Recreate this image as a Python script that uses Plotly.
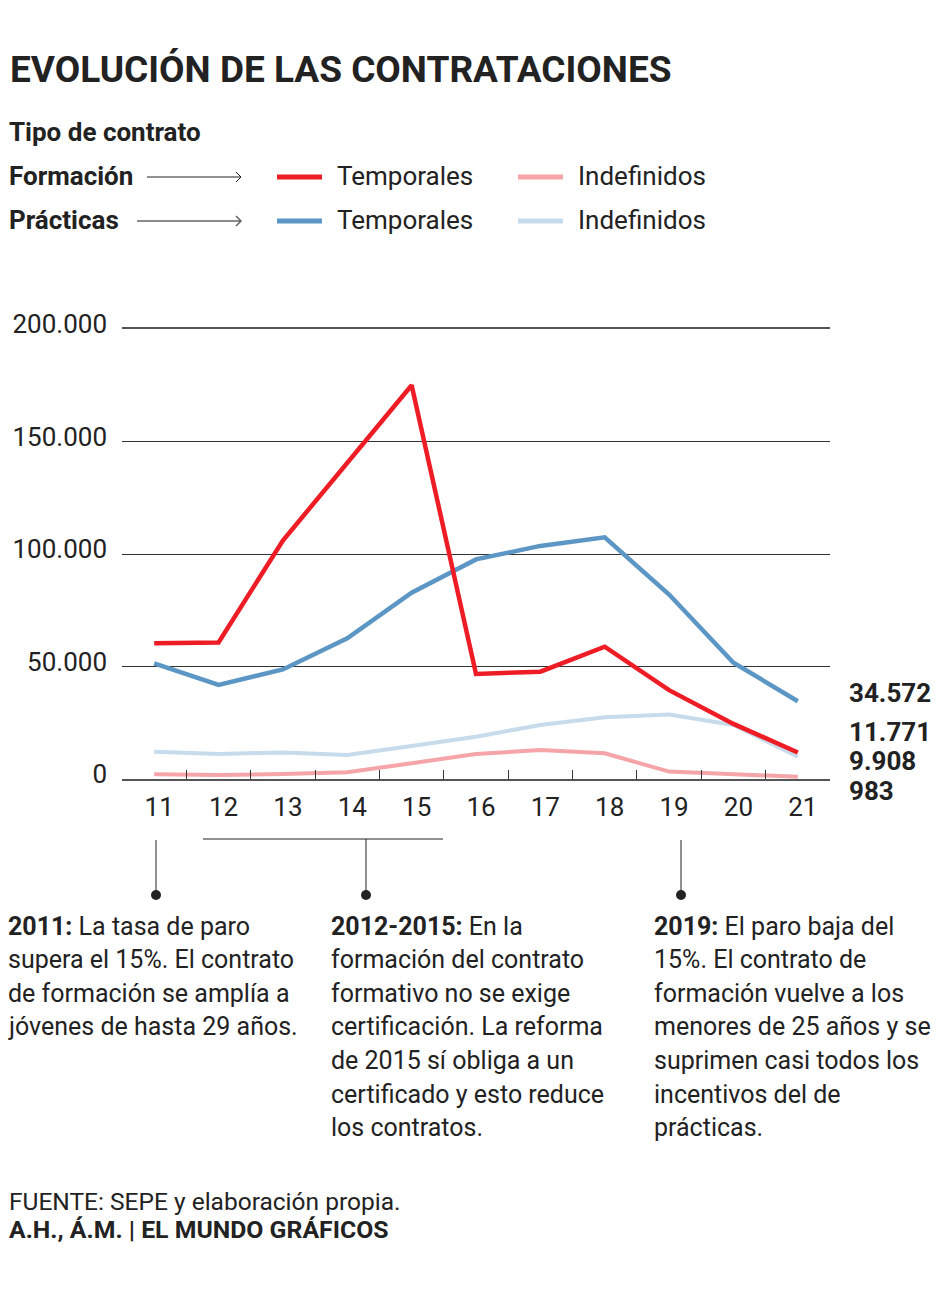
import plotly.graph_objects as go

# ---------------- data ----------------
years = ["11", "12", "13", "14", "15", "16", "17", "18", "19", "20", "21"]
formacion_temporales = [60300, 60700, 106000, 140500, 175000, 46700, 47700, 58800, 39500, 24500, 11771]
formacion_indefinidos = [2100, 1800, 2200, 3000, 7000, 11100, 12900, 11400, 3300, 2200, 983]
practicas_temporales = [51400, 41800, 48700, 62500, 82800, 97600, 103600, 107400, 82000, 51700, 34572]
practicas_indefinidos = [12100, 11100, 11800, 10700, 14700, 18800, 24000, 27400, 28700, 24000, 9908]
y_ticks = [0, 50000, 100000, 150000, 200000]

title = "EVOLUCIÓN DE LAS CONTRATACIONES"
legend_title = "Tipo de contrato"
note_2011 = ["<b>2011:</b> La tasa de paro", "supera el 15%. El contrato",
             "de formación se amplía a", "jóvenes de hasta 29 años."]
note_2012 = ["<b>2012-2015:</b> En la", "formación del contrato", "formativo no se exige",
             "certificación. La reforma", "de 2015 sí obliga a un",
             "certificado y esto reduce", "los contratos."]
note_2019 = ["<b>2019:</b> El paro baja del", "15%. El contrato de",
             "formación vuelve a los", "menores de 25 años y se",
             "suprimen casi todos los", "incentivos del de", "prácticas."]
source = "FUENTE: SEPE y elaboración propia."
credit = "<b>A.H., Á.M. | EL MUNDO GRÁFICOS</b>"

# ---------------- styles ----------------
RED = "#ee1c25"
PINK = "#f5a4a8"
BLUE = "#5b96c4"
LBLUE = "#c6dbeb"
TXT = "#222222"
FONT = "Roboto"

W, H = 940, 1306
L, R, T, B = 122, 110, 329, 527
PW, PH = W - L - R, H - T - B


def px(x):
    return (x - L) / PW


def py(y):
    return (H - B - y) / PH


fig = go.Figure()
series = [
    ("Prácticas Indefinidos", practicas_indefinidos, LBLUE, 4),
    ("Formación Indefinidos", formacion_indefinidos, PINK, 4),
    ("Prácticas Temporales", practicas_temporales, BLUE, 4.5),
    ("Formación Temporales", formacion_temporales, RED, 4.5),
]
for name, vals, col, wd in series:
    fig.add_trace(go.Scatter(x=years, y=vals, mode="lines", name=name,
                             line=dict(color=col, width=wd), hoverinfo="skip"))

shapes = []
annotations = []


def text(x, y, s, size, bold=False, xanchor="left", yanchor="middle", color=TXT):
    annotations.append(dict(
        xref="paper", yref="paper", x=px(x), y=py(y),
        text=(f"<b>{s}</b>" if bold else s), showarrow=False,
        xanchor=xanchor, yanchor=yanchor, align="left",
        font=dict(family=FONT, size=size, color=color), borderpad=0,
    ))


def line(x0, y0, x1, y1, color=TXT, width=1):
    shapes.append(dict(type="line", xref="paper", yref="paper",
                       x0=px(x0), y0=py(y0), x1=px(x1), y1=py(y1),
                       line=dict(color=color, width=width)))


# title & legend
text(9, 69, title, 37, bold=True)
text(8, 132, legend_title, 26, bold=True)
text(8, 176, "Formación", 26, bold=True)
text(8, 220, "Prácticas", 26, bold=True)


def arrow(x0, x1, y, color, width):
    path = (f"M {px(x0)},{py(y)} L {px(x1)},{py(y)} "
            f"M {px(x1 - 5)},{py(y - 5)} L {px(x1)},{py(y)} L {px(x1 - 5)},{py(y + 5)}")
    shapes.append(dict(type="path", xref="paper", yref="paper", path=path,
                       line=dict(color=color, width=width)))


arrow(147, 241, 177, "#222222", 1)
arrow(137, 241, 221, "#666666", 1.5)

legend_items = [
    (277, 176, RED, "Temporales"),
    (518, 176, PINK, "Indefinidos"),
    (277, 220, BLUE, "Temporales"),
    (518, 220, LBLUE, "Indefinidos"),
]
for x0, y0, col, lab in legend_items:
    line(x0, y0 + 1, x0 + 45, y0 + 1, color=col, width=5)
    text(x0 + 59, y0, lab, 26)


# end values
def fmt(v):
    return f"{v:,}".replace(",", ".")


end_labels = [
    (693, practicas_temporales[-1]),
    (732, formacion_temporales[-1]),
    (761, practicas_indefinidos[-1]),
    (791, formacion_indefinidos[-1]),
]
for yy, v in end_labels:
    text(848, yy, fmt(v), 26, bold=True)

# timeline notes
line(156, 840, 156, 893)
line(203, 839, 443, 839)
line(366, 839, 366, 893)
line(681, 840, 681, 893)
for cx in (156, 366, 681):
    shapes.append(dict(type="circle", xref="paper", yref="paper",
                       x0=px(cx - 5), x1=px(cx + 5), y0=py(900), y1=py(890),
                       fillcolor=TXT, line=dict(color=TXT, width=0)))

LS = 33.6
for x0, lines_ in ((7, note_2011), (330, note_2012), (653, note_2019)):
    for i, s in enumerate(lines_):
        text(x0, 926 + i * LS, s, 25)

# footer
text(8, 1201, source, 24.5)
text(8, 1229, credit, 24.8)

fig.update_layout(
    width=W, height=H,
    margin=dict(l=L, r=R, t=T, b=B, pad=0),
    paper_bgcolor="white", plot_bgcolor="white",
    showlegend=False,
    separators=",.",
    shapes=shapes, annotations=annotations,
    font=dict(family=FONT, color=TXT),
)
fig.update_xaxes(
    type="category", range=[-0.5, 10.5], tickson="boundaries",
    ticks="inside", ticklen=9, tickcolor="#333333", tickwidth=1,
    showline=True, linecolor="#555555", linewidth=1.5, mirror=True,
    showgrid=False, zeroline=False,
    tickfont=dict(family=FONT, size=26, color=TXT),
    ticklabelstandoff=4, ticklabelshift=5,
)
fig.update_yaxes(
    range=[0, 200000], tickvals=y_ticks, tickformat=",d",
    showgrid=True, gridcolor="#333333", gridwidth=1,
    zeroline=False, showline=False, ticks="",
    tickfont=dict(family=FONT, size=26, color=TXT),
    ticklabelstandoff=14, ticklabelshift=-5,
)

fig.write_html("out.html")
